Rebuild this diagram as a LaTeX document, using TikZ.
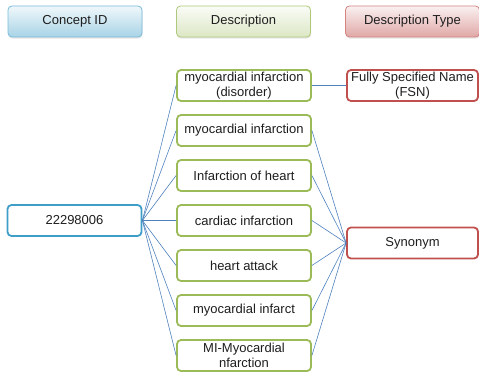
\documentclass[tikz,border=0pt]{standalone}
\usepackage{fontspec}
\setmainfont{Liberation Sans}
\usepackage{tikz}
\usetikzlibrary{positioning,shadows}
\definecolor{cidblue}{RGB}{62,158,200}
\definecolor{dsgreen}{RGB}{155,187,89}
\definecolor{tyred}{RGB}{192,80,77}
\definecolor{lnblue}{RGB}{79,129,189}
\definecolor{txtgray}{RGB}{30,30,30}

\begin{document}
\begin{tikzpicture}[x=1pt,y=1pt,font=\fontsize{13}{14.5}\selectfont,text=txtgray,node distance=12.2pt,
      b/.style={rounded corners=4pt,minimum width=134pt,minimum height=31pt,inner ysep=0pt,align=center},
      hd/.style={b,draw,line width=.8pt,drop shadow={opacity=.2,shadow xshift=.6pt,shadow yshift=-1.6pt}},
      cid/.style={b,draw=cidblue,line width=1.8pt,fill=white},
      ds/.style={b,draw=dsgreen,line width=1.8pt,fill=white},
      ty/.style={b,draw=tyred,line width=1.8pt,fill=white,minimum width=131pt},
      ln/.style={draw=lnblue,line width=.6pt}]
      \useasboundingbox (0,0) rectangle (479,-374);
      % column headers
      \node[hd,draw=cidblue!70,top color=cidblue!8,bottom color=cidblue!45] (hcid) at (75,-21.5) {Concept ID};
      \node[hd,draw=dsgreen!80,top color=dsgreen!5,bottom color=dsgreen!35] (hds) at (243.5,-21.5) {Description};
      \node[hd,draw=tyred!70,top color=tyred!8,bottom color=tyred!50] (hty) at (412.5,-21.5) {Description Type};
      % descriptions
      \node[ds] (d1) at (244,-85.5) {myocardial infarction\\(disorder)};
      \node[ds,below=of d1] (d2) {myocardial infarction};
      \node[ds,below=of d2] (d3) {Infarction of heart};
      \node[ds,below=of d3] (d4) {cardiac infarction};
      \node[ds,below=of d4] (d5) {heart attack};
      \node[ds,below=of d5] (d6) {myocardial infarct};
      \node[ds,below=of d6] (d7) {MI-Myocardial\\nfarction};
      \node[cid,left=33.7pt of d4] (cid) {22298006};
      \node[ty,right=34.2pt of d1] (fsn) {Fully Specified Name\\(FSN)};
      \node[ty] (syn) at (412.5,-243) {Synonym};
      % connectors
      \draw[ln] (cid.east)--(d1.west); \draw[ln] (cid.east)--(d2.west); \draw[ln] (cid.east)--(d3.west);
      \draw[ln] (cid.east)--(d4.west); \draw[ln] (cid.east)--(d5.west); \draw[ln] (cid.east)--(d6.west);
      \draw[ln] (cid.east)--(d7.west);
      \draw[ln] (d1.east)--(fsn.west);
      \draw[ln] (d2.east)--(syn.west); \draw[ln] (d3.east)--(syn.west); \draw[ln] (d4.east)--(syn.west);
      \draw[ln] (d5.east)--(syn.west); \draw[ln] (d6.east)--(syn.west); \draw[ln] (d7.east)--(syn.west);
    \end{tikzpicture}
\end{document}
